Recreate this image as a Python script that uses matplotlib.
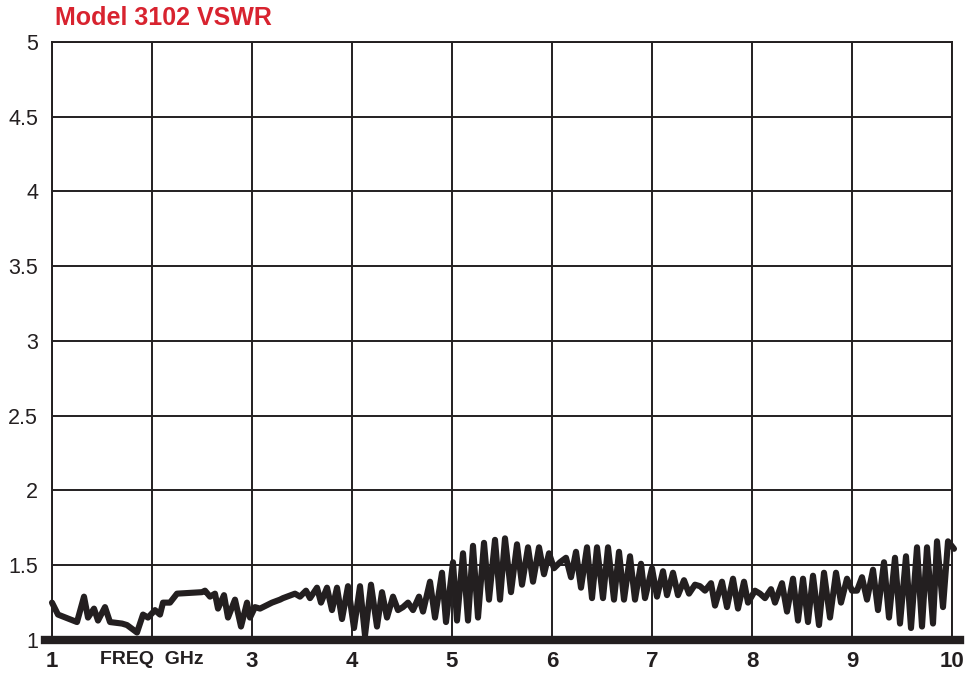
import matplotlib
matplotlib.use("Agg")
import matplotlib.pyplot as plt

# VSWR trace (frequency in GHz, local peaks and dips)
freq = [1.00, 1.06, 1.25, 1.32, 1.36, 1.42, 1.46, 1.53, 1.58, 1.70, 1.75, 1.85,
        1.91, 1.96, 2.03, 2.08, 2.11, 2.18, 2.25, 2.50, 2.53, 2.58, 2.63, 2.66,
        2.72, 2.76, 2.83, 2.89, 2.95, 2.98, 3.03, 3.08, 3.20, 3.28, 3.31, 3.43,
        3.48, 3.54, 3.58, 3.65, 3.69, 3.75, 3.80, 3.85, 3.90, 3.96, 4.02, 4.08,
        4.13, 4.19, 4.25, 4.30, 4.35, 4.41, 4.46, 4.51, 4.56, 4.61, 4.67, 4.71,
        4.78, 4.83, 4.90, 4.94, 5.01, 5.05, 5.11, 5.16, 5.21, 5.26, 5.32, 5.37,
        5.43, 5.48, 5.53, 5.59, 5.65, 5.70, 5.76, 5.81, 5.87, 5.92, 5.97, 6.02,
        6.08, 6.14, 6.19, 6.24, 6.29, 6.35, 6.40, 6.45, 6.51, 6.56, 6.62, 6.67,
        6.72, 6.78, 6.83, 6.89, 6.93, 7.00, 7.05, 7.11, 7.15, 7.21, 7.26, 7.32,
        7.37, 7.43, 7.48, 7.53, 7.59, 7.63, 7.70, 7.75, 7.81, 7.86, 7.92, 7.96,
        8.03, 8.08, 8.13, 8.19, 8.23, 8.30, 8.35, 8.41, 8.46, 8.51, 8.56, 8.61,
        8.67, 8.72, 8.78, 8.84, 8.89, 8.95, 9.00, 9.05, 9.10, 9.15, 9.21, 9.26,
        9.32, 9.37, 9.43, 9.48, 9.54, 9.59, 9.65, 9.70, 9.75, 9.81, 9.85, 9.91,
        9.96, 10.02]
vswr = [1.25, 1.17, 1.12, 1.29, 1.15, 1.21, 1.13, 1.22, 1.12, 1.11, 1.10, 1.05,
        1.17, 1.15, 1.20, 1.17, 1.25, 1.25, 1.31, 1.32, 1.33, 1.29, 1.31, 1.21,
        1.30, 1.15, 1.27, 1.09, 1.25, 1.15, 1.22, 1.21, 1.25, 1.27, 1.28, 1.31,
        1.29, 1.33, 1.28, 1.35, 1.25, 1.35, 1.20, 1.35, 1.14, 1.36, 1.08, 1.36,
        1.03, 1.37, 1.09, 1.32, 1.15, 1.29, 1.20, 1.22, 1.25, 1.20, 1.29, 1.19,
        1.39, 1.15, 1.45, 1.12, 1.52, 1.13, 1.58, 1.13, 1.63, 1.15, 1.65, 1.27,
        1.67, 1.27, 1.68, 1.32, 1.64, 1.37, 1.62, 1.39, 1.62, 1.44, 1.58, 1.48,
        1.52, 1.55, 1.42, 1.59, 1.35, 1.62, 1.28, 1.62, 1.28, 1.62, 1.27, 1.59,
        1.27, 1.56, 1.27, 1.51, 1.28, 1.48, 1.29, 1.46, 1.30, 1.45, 1.30, 1.40,
        1.31, 1.37, 1.36, 1.33, 1.38, 1.23, 1.39, 1.22, 1.41, 1.21, 1.39, 1.25,
        1.33, 1.31, 1.28, 1.34, 1.25, 1.38, 1.19, 1.41, 1.13, 1.41, 1.12, 1.43,
        1.10, 1.45, 1.15, 1.45, 1.25, 1.41, 1.33, 1.33, 1.42, 1.27, 1.47, 1.20,
        1.52, 1.15, 1.55, 1.11, 1.56, 1.08, 1.62, 1.09, 1.62, 1.11, 1.66, 1.22,
        1.66, 1.61]

x_ticks = [1, 2, 3, 4, 5, 6, 7, 8, 9, 10]
x_labels = ["1", "FREQ  GHz", "3", "4", "5", "6", "7", "8", "9", "10"]
y_ticks = [1, 1.5, 2, 2.5, 3, 3.5, 4, 4.5, 5]
y_labels = ["1", "1.5", "2", "2.5", "3", "3.5", "4", "4.5", "5"]

ink = "#231f20"
font = "Liberation Sans"

fig = plt.figure(figsize=(9.66, 6.77), dpi=100)
ax = fig.add_axes([52 / 966, 1 - 640 / 677, 900 / 966, 598 / 677])

ax.plot(freq, vswr, color=ink, linewidth=4.4, solid_joinstyle="round",
        solid_capstyle="round", clip_on=False, zorder=3)

# heavy base line along VSWR = 1
ax.axhline(1, xmin=-0.008, xmax=1.009, color=ink, linewidth=6, clip_on=False, zorder=4)

ax.set_xlim(1, 10)
ax.set_ylim(1, 5)
ax.set_xticks(x_ticks)
ax.set_yticks(y_ticks)
ax.set_xticklabels(x_labels, family=font, fontsize=16, fontweight="bold", color=ink)
ax.set_yticklabels(y_labels, family=font, fontsize=15.5, color=ink)
# the axis name sits in place of the "2" label, a bit smaller
ax.get_xticklabels()[1].set_fontsize(14)
ax.tick_params(axis="both", length=0)
ax.tick_params(axis="y", pad=10)
ax.tick_params(axis="x", pad=8)
ax.grid(True, color=ink, linewidth=1.4)
for s in ax.spines.values():
    s.set_color(ink)
    s.set_linewidth(1.4)

fig.text(55 / 966, 1 - 18 / 677, "Model 3102 VSWR", family=font, fontsize=18,
         fontweight="bold", color="#d8232f", va="center", ha="left")

fig.savefig("out.png", dpi=100)
